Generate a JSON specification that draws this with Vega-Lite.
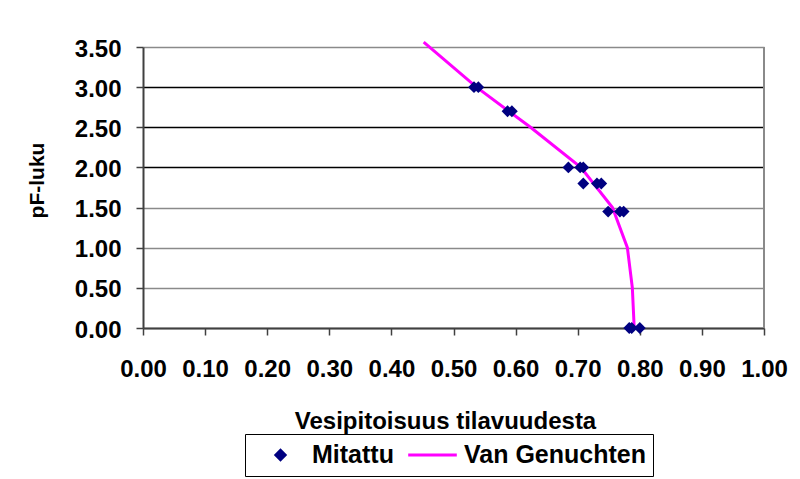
{
  "$schema": "https://vega.github.io/schema/vega-lite/v6.json",
  "width": 621,
  "height": 281,
  "autosize": {"type": "none"},
  "padding": {"left": 143, "top": 47, "right": 36, "bottom": 151},
  "background": "white",
  "config": {
    "font": "Liberation Sans",
    "view": {"stroke": null},
    "axis": {
      "labelFont": "Liberation Sans",
      "labelFontWeight": "bold",
      "labelColor": "black",
      "titleFont": "Liberation Sans",
      "titleFontWeight": "bold",
      "titleColor": "black",
      "domainColor": "#404040",
      "domainWidth": 2,
      "tickColor": "#404040",
      "tickWidth": 1.5,
      "tickSize": 7
    },
    "legend": {
      "labelFont": "Liberation Sans",
      "labelFontWeight": "bold",
      "labelColor": "black"
    }
  },
  "data": {
    "values": [
      {"series": "Mitattu", "theta": 0.533, "pF": 3.0},
      {"series": "Mitattu", "theta": 0.540, "pF": 3.0},
      {"series": "Mitattu", "theta": 0.587, "pF": 2.7},
      {"series": "Mitattu", "theta": 0.594, "pF": 2.7},
      {"series": "Mitattu", "theta": 0.685, "pF": 2.0},
      {"series": "Mitattu", "theta": 0.704, "pF": 2.0},
      {"series": "Mitattu", "theta": 0.709, "pF": 2.0},
      {"series": "Mitattu", "theta": 0.709, "pF": 1.8},
      {"series": "Mitattu", "theta": 0.731, "pF": 1.8},
      {"series": "Mitattu", "theta": 0.738, "pF": 1.8},
      {"series": "Mitattu", "theta": 0.749, "pF": 1.45},
      {"series": "Mitattu", "theta": 0.768, "pF": 1.45},
      {"series": "Mitattu", "theta": 0.774, "pF": 1.45},
      {"series": "Mitattu", "theta": 0.783, "pF": 0.0},
      {"series": "Mitattu", "theta": 0.787, "pF": 0.0},
      {"series": "Mitattu", "theta": 0.800, "pF": 0.0},
      {"series": "Van Genuchten", "theta": 0.791, "pF": 0.0},
      {"series": "Van Genuchten", "theta": 0.788, "pF": 0.5},
      {"series": "Van Genuchten", "theta": 0.780, "pF": 1.0},
      {"series": "Van Genuchten", "theta": 0.756, "pF": 1.5},
      {"series": "Van Genuchten", "theta": 0.705, "pF": 2.0},
      {"series": "Van Genuchten", "theta": 0.624, "pF": 2.5},
      {"series": "Van Genuchten", "theta": 0.537, "pF": 3.0},
      {"series": "Van Genuchten", "theta": 0.452, "pF": 3.56}
    ]
  },
  "encoding": {
    "x": {
      "field": "theta",
      "type": "quantitative",
      "scale": {"domain": [0, 1], "nice": false, "zero": false},
      "axis": {
        "title": "Vesipitoisuus tilavuudesta",
        "values": [0, 0.1, 0.2, 0.3, 0.4, 0.5, 0.6, 0.7, 0.8, 0.9, 1.0],
        "format": ".2f",
        "grid": false,
        "labelFontSize": 24,
        "labelPadding": 22,
        "labelFlush": false,
        "labelOverlap": false,
        "titleFontSize": 24,
        "titleFontWeight": "bold",
        "titleX": 302,
        "titleY": 100,
        "titleAlign": "center",
        "titleBaseline": "alphabetic"
      }
    },
    "y": {
      "field": "pF",
      "type": "quantitative",
      "scale": {"domain": [0, 3.5], "nice": false, "zero": false},
      "axis": {
        "title": "pF-luku",
        "values": [0, 0.5, 1.0, 1.5, 2.0, 2.5, 3.0, 3.5],
        "format": ".2f",
        "grid": true,
        "gridColor": {"condition": {"test": "datum.value >= 1.9 && datum.value <= 3.1", "value": "#000000"}, "value": "#8a8a8a"},
        "gridWidth": 1.5,
        "labelFontSize": 24,
        "labelPadding": 15,
        "labelOffset": 2,
        "labelFlush": false,
        "labelOverlap": false,
        "titleFontSize": 21,
        "titleFontWeight": "bold",
        "titleAngle": -90,
        "titleX": -100,
        "titleY": 133,
        "titleAlign": "center",
        "titleBaseline": "alphabetic"
      }
    }
  },
  "layer": [
    {
      "description": "right-hand frame of the plot area at the end of the x scale",
      "mark": {"type": "rule", "color": "#8a8a8a", "strokeWidth": 2},
      "encoding": {"x": {"datum": 1}, "y": {"datum": 0}, "y2": {"datum": 3.5}}
    },
    {
      "transform": [{"filter": "datum.series === 'Van Genuchten'"}],
      "mark": {"type": "line", "strokeWidth": 3, "clip": false},
      "encoding": {
        "order": {"field": "pF", "type": "quantitative"},
        "color": {
          "field": "series",
          "type": "nominal",
          "scale": {"domain": ["Mitattu", "Van Genuchten"], "range": ["#000080", "#ff00ff"]},
          "legend": {
            "title": null,
            "orient": "none",
            "legendX": 102,
            "legendY": 387,
            "direction": "horizontal",
            "strokeColor": "black",
            "fillColor": "white",
            "padding": 7,
            "clipHeight": 28,
            "labelFontSize": 25,
            "labelFontWeight": "bold",
            "labelOffset": 3,
            "columnPadding": 10,
            "labelLimit": 400,
            "encode": {
              "symbols": {
                "update": {
                  "shape": {"signal": "datum.value === 'Mitattu' ? 'M-0.17,0L0,-0.17L0.17,0L0,0.17Z' : 'M-0.9,0H0.9'"},
                  "size": {"value": 2916},
                  "fill": {"signal": "datum.value === 'Mitattu' ? '#000080' : 'transparent'"},
                  "stroke": {"signal": "datum.value === 'Mitattu' ? 'transparent' : '#ff00ff'"},
                  "strokeWidth": {"value": 3}
                }
              }
            }
          }
        }
      }
    },
    {
      "transform": [{"filter": "datum.series === 'Mitattu'"}],
      "mark": {"type": "point", "shape": "diamond", "filled": true, "size": 140, "opacity": 1},
      "encoding": {
        "color": {
          "field": "series",
          "type": "nominal",
          "scale": {"domain": ["Mitattu", "Van Genuchten"], "range": ["#000080", "#ff00ff"]},
          "legend": {
            "title": null,
            "orient": "none",
            "legendX": 102,
            "legendY": 387,
            "direction": "horizontal",
            "strokeColor": "black",
            "fillColor": "white",
            "padding": 7,
            "clipHeight": 28,
            "labelFontSize": 25,
            "labelFontWeight": "bold",
            "labelOffset": 3,
            "columnPadding": 10,
            "labelLimit": 400,
            "encode": {
              "symbols": {
                "update": {
                  "shape": {"signal": "datum.value === 'Mitattu' ? 'M-0.17,0L0,-0.17L0.17,0L0,0.17Z' : 'M-0.9,0H0.9'"},
                  "size": {"value": 2916},
                  "fill": {"signal": "datum.value === 'Mitattu' ? '#000080' : 'transparent'"},
                  "stroke": {"signal": "datum.value === 'Mitattu' ? 'transparent' : '#ff00ff'"},
                  "strokeWidth": {"value": 3}
                }
              }
            }
          }
        }
      }
    }
  ]
}
